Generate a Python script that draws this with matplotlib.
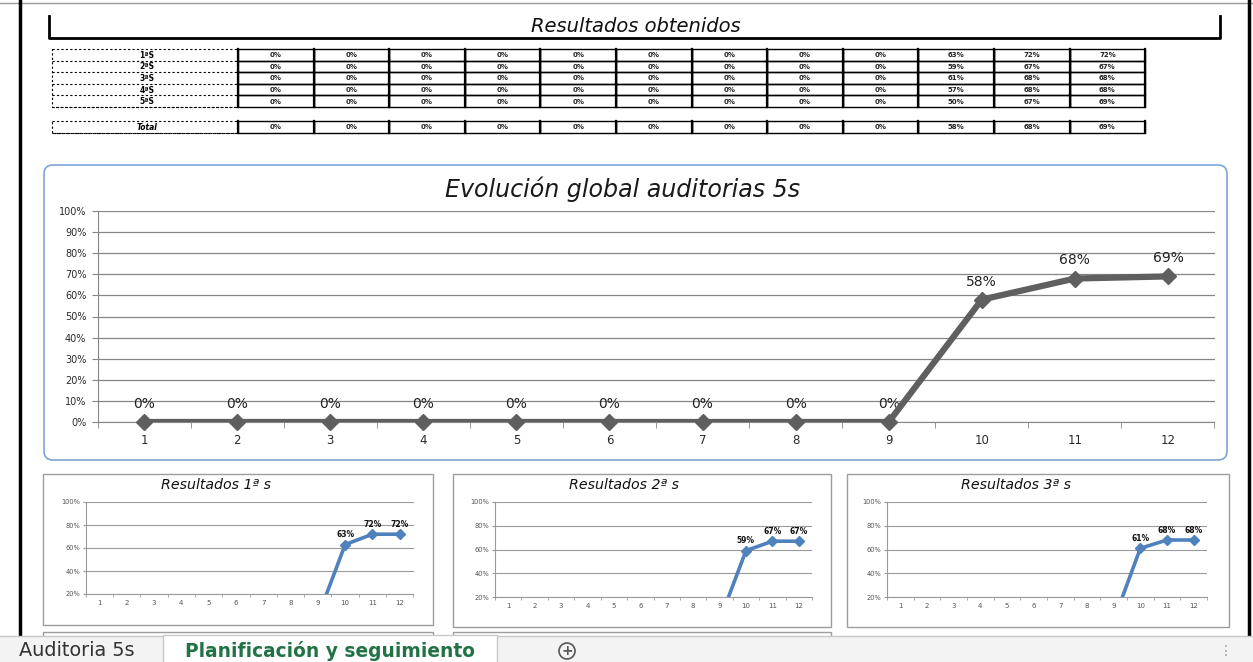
import matplotlib
matplotlib.use("Agg")
import matplotlib.pyplot as plt
from matplotlib.patches import Rectangle, FancyBboxPatch, Circle
from matplotlib.ticker import FixedLocator

# ---------------- data ----------------
months = list(range(1, 13))
row_labels = ["1ªS", "2ªS", "3ªS", "4ªS", "5ªS"]
s1 = [0, 0, 0, 0, 0, 0, 0, 0, 0, 63, 72, 72]
s2 = [0, 0, 0, 0, 0, 0, 0, 0, 0, 59, 67, 67]
s3 = [0, 0, 0, 0, 0, 0, 0, 0, 0, 61, 68, 68]
s4 = [0, 0, 0, 0, 0, 0, 0, 0, 0, 57, 68, 68]
s5 = [0, 0, 0, 0, 0, 0, 0, 0, 0, 50, 67, 69]
total = [0, 0, 0, 0, 0, 0, 0, 0, 0, 58, 68, 69]
table_title = "Resultados obtenidos"
total_label = "Total"
main_title = "Evolución global auditorias 5s"
small_titles = ["Resultados 1ª s", "Resultados 2ª s", "Resultados 3ª s"]
tab_names = ["Auditoria 5s", "Planificación y seguimiento"]

W, H = 1253, 662
fig = plt.figure(figsize=(W / 100, H / 100), dpi=100)
fig.patch.set_facecolor("white")
renderer = fig.canvas.get_renderer()

bg = fig.add_axes([0, 0, 1, 1])
bg.set_xlim(0, W)
bg.set_ylim(H, 0)
bg.axis("off")


def rect(x0, y0, x1, y1):
    return [x0 / W, 1 - y1 / H, (x1 - x0) / W, (y1 - y0) / H]


def fit_text(x, y, s, width_px, **kw):
    """Place text and scale its font size so that it spans width_px pixels."""
    t = bg.text(x, y, s, ha="center", va="center", **kw)
    w = t.get_window_extent(renderer=renderer).width
    t.set_fontsize(t.get_fontsize() * width_px / w)
    return t


# ---------------- sheet frame ----------------
bg.plot([0, W], [3, 3], color="#9a9a9a", lw=1)
bg.plot([20, 20], [0, 636], color="black", lw=2.5)
bg.plot([1249, 1249], [0, 636], color="black", lw=2.5)

# title box of the table
bg.plot([49, 49, 1220, 1220], [16, 38, 38, 16], color="black", lw=2)
fit_text(636, 27, table_title, 210, fontsize=11, style="italic",
         family="DejaVu Sans", color="#111111")

# ---------------- table ----------------
col_x0, col_w = 238, 75.6
row_y0, row_h = 49, 11.6
lab_x0, lab_x1 = 52, 237
series_rows = [s1, s2, s3, s4, s5]


def draw_row(y_top, label, values, label_style="normal", label_weight="bold"):
    y_bot = y_top + row_h
    bg.plot([lab_x0, lab_x1], [y_bot, y_bot], color="black", lw=0.8, ls=(0, (2, 2)))
    bg.text(147, y_top + row_h / 2 + 0.5, label, ha="center", va="center",
            fontsize=5.5, fontweight=label_weight, style=label_style)
    for j, v in enumerate(values):
        x0 = col_x0 + j * col_w
        bg.add_patch(Rectangle((x0, y_top), col_w, row_h, fill=False,
                               edgecolor="black", lw=1))
        bg.plot([x0, x0], [y_top, y_bot], color="black", lw=1.6)
        bg.text(x0 + col_w / 2, y_top + row_h / 2 + 0.5, f"{v}%", ha="center",
                va="center", fontsize=5, fontweight="bold", color="#222222")
    bg.plot([col_x0 + 12 * col_w] * 2, [y_top, y_bot], color="black", lw=1.6)


for i, (lab, vals) in enumerate(zip(row_labels, series_rows)):
    draw_row(row_y0 + i * row_h, lab, vals)
bg.add_patch(Rectangle((lab_x0, row_y0), lab_x1 - lab_x0, 5 * row_h, fill=False,
                       edgecolor="black", lw=0.8, ls=(0, (2, 2))))
draw_row(121, total_label, total, label_style="italic")
bg.add_patch(Rectangle((lab_x0, 121), lab_x1 - lab_x0, row_h, fill=False,
                       edgecolor="black", lw=0.8, ls=(0, (2, 2))))

# ---------------- main chart ----------------
bg.add_patch(FancyBboxPatch((44, 165), 1183, 295,
                            boxstyle="round,pad=0,rounding_size=9",
                            fill=False, edgecolor="#7fa5d6", lw=1.2))
fit_text(623, 189, main_title, 355, fontsize=15, style="italic",
         family="DejaVu Sans", color="#1a1a1a")

ax = fig.add_axes(rect(97.5, 211, 1214.5, 422))
ax.set_xlim(0.5, 12.5)
ax.set_ylim(0, 1.0)
yt = [i / 10 for i in range(11)]
ax.set_yticks(yt)
ax.set_yticklabels([f"{int(round(v * 100))}%" for v in yt], fontsize=7,
                   color="#2a2a2a")
ax.set_xticks(months)
ax.set_xticklabels([str(m) for m in months], fontsize=8.5, color="#2a2a2a")
ax.xaxis.set_minor_locator(FixedLocator([m + 0.5 for m in range(0, 13)]))
ax.tick_params(axis="x", which="major", length=0, pad=9)
ax.tick_params(axis="x", which="minor", length=4, color="#868686", direction="out")
ax.tick_params(axis="y", length=4, color="#868686", pad=4)
for sp in ["top", "right"]:
    ax.spines[sp].set_visible(False)
for sp in ["left", "bottom"]:
    ax.spines[sp].set_color("#868686")
ax.grid(axis="y", color="#868686", lw=0.9)
ax.set_axisbelow(True)
ax.set_facecolor("none")
yv = [v / 100 for v in total]
ax.plot(months, yv, color="#5f5f5f", lw=4.5, clip_on=True, zorder=5,
        solid_capstyle="butt")
ax.plot(months, yv, ls="none", color="#5f5f5f", marker="D", ms=8,
        clip_on=False, zorder=6)
for m, v in zip(months, total):
    ax.annotate(f"{v}%", (m, v / 100), xytext=(0, 13), textcoords="offset points",
                ha="center", va="center", fontsize=10, color="#222222",
                family="DejaVu Sans")

# ---------------- small charts ----------------
boxes = [(43, 474, 433, 625), (453, 474, 831, 627), (847, 474, 1229, 627)]
plots = [(85.5, 502, 413.5, 594), (495, 502, 812, 597), (887, 502, 1207, 597)]
title_x = [216, 624, 1016]
small_series = [s1, s2, s3]
for (bx0, by0, bx1, by1), (px0, py0, px1, py1), tx, title, ser in zip(
        boxes, plots, title_x, small_titles, small_series):
    bg.add_patch(Rectangle((bx0, by0), bx1 - bx0, by1 - by0, fill=False,
                           edgecolor="#9d9d9d", lw=1))
    fit_text(tx, 485, title, 110, fontsize=9, style="italic",
             family="DejaVu Sans", color="#111111")
    a = fig.add_axes(rect(px0, py0, px1, py1))
    a.set_xlim(0.5, 12.5)
    a.set_ylim(0.2, 1.0)
    st = [0.2, 0.4, 0.6, 0.8, 1.0]
    a.set_yticks(st)
    a.set_yticklabels([f"{int(round(v * 100))}%" for v in st], fontsize=4.8,
                      color="#555555")
    a.set_xticks(months)
    a.set_xticklabels([str(m) for m in months], fontsize=5, color="#555555")
    a.xaxis.set_minor_locator(FixedLocator([m + 0.5 for m in range(0, 13)]))
    a.tick_params(axis="x", which="major", length=0, pad=4)
    a.tick_params(axis="x", which="minor", length=2, color="#9a9a9a")
    a.tick_params(axis="y", length=2, color="#9a9a9a", pad=2)
    for sp in ["top", "right"]:
        a.spines[sp].set_visible(False)
    for sp in ["left", "bottom"]:
        a.spines[sp].set_color("#9a9a9a")
    a.grid(axis="y", color="#9a9a9a", lw=0.8)
    a.set_axisbelow(True)
    a.set_facecolor("none")
    a.plot(months, [v / 100 for v in ser], color="#4f81bd", lw=2.6, marker="D",
           ms=5, zorder=5)
    for m, v in zip(months, ser):
        if v / 100 >= 0.2:
            a.annotate(f"{v}%", (m, v / 100), xytext=(0, 7),
                       textcoords="offset points", ha="center", va="center",
                       fontsize=5.5, fontweight="bold", color="#111111")

# next row of boxes (partially visible)
bg.plot([43, 43, 433, 433], [640, 632, 632, 640], color="#9d9d9d", lw=1)
bg.plot([453, 453, 831, 831], [640, 632, 632, 640], color="#9d9d9d", lw=1)

# ---------------- sheet tabs ----------------
bg.add_patch(Rectangle((0, 636), W, 26, facecolor="#f3f3f3", edgecolor="none",
                       zorder=6))
bg.plot([0, W], [636, 636], color="#c8c8c8", lw=1, zorder=7)
bg.add_patch(Rectangle((163, 635), 334, 28, facecolor="white", edgecolor="#c8c8c8",
                       lw=1, zorder=7))
fit_text(77, 651, tab_names[0], 116, fontsize=11, color="#333333",
         family="DejaVu Sans", zorder=9)
fit_text(330, 651, tab_names[1], 288, fontsize=11, fontweight="bold",
         color="#217346", family="DejaVu Sans", zorder=9)
bg.add_patch(Circle((567, 651), 8, fill=False, edgecolor="#555555", lw=1.2,
                    zorder=9))
bg.text(567, 651, "+", ha="center", va="center", fontsize=10, fontweight="bold",
        color="#555555", zorder=9)
bg.text(1226, 651, "⋮", ha="center", va="center", fontsize=10, color="#9a9a9a",
        zorder=9)

fig.savefig("out.png", dpi=100)
